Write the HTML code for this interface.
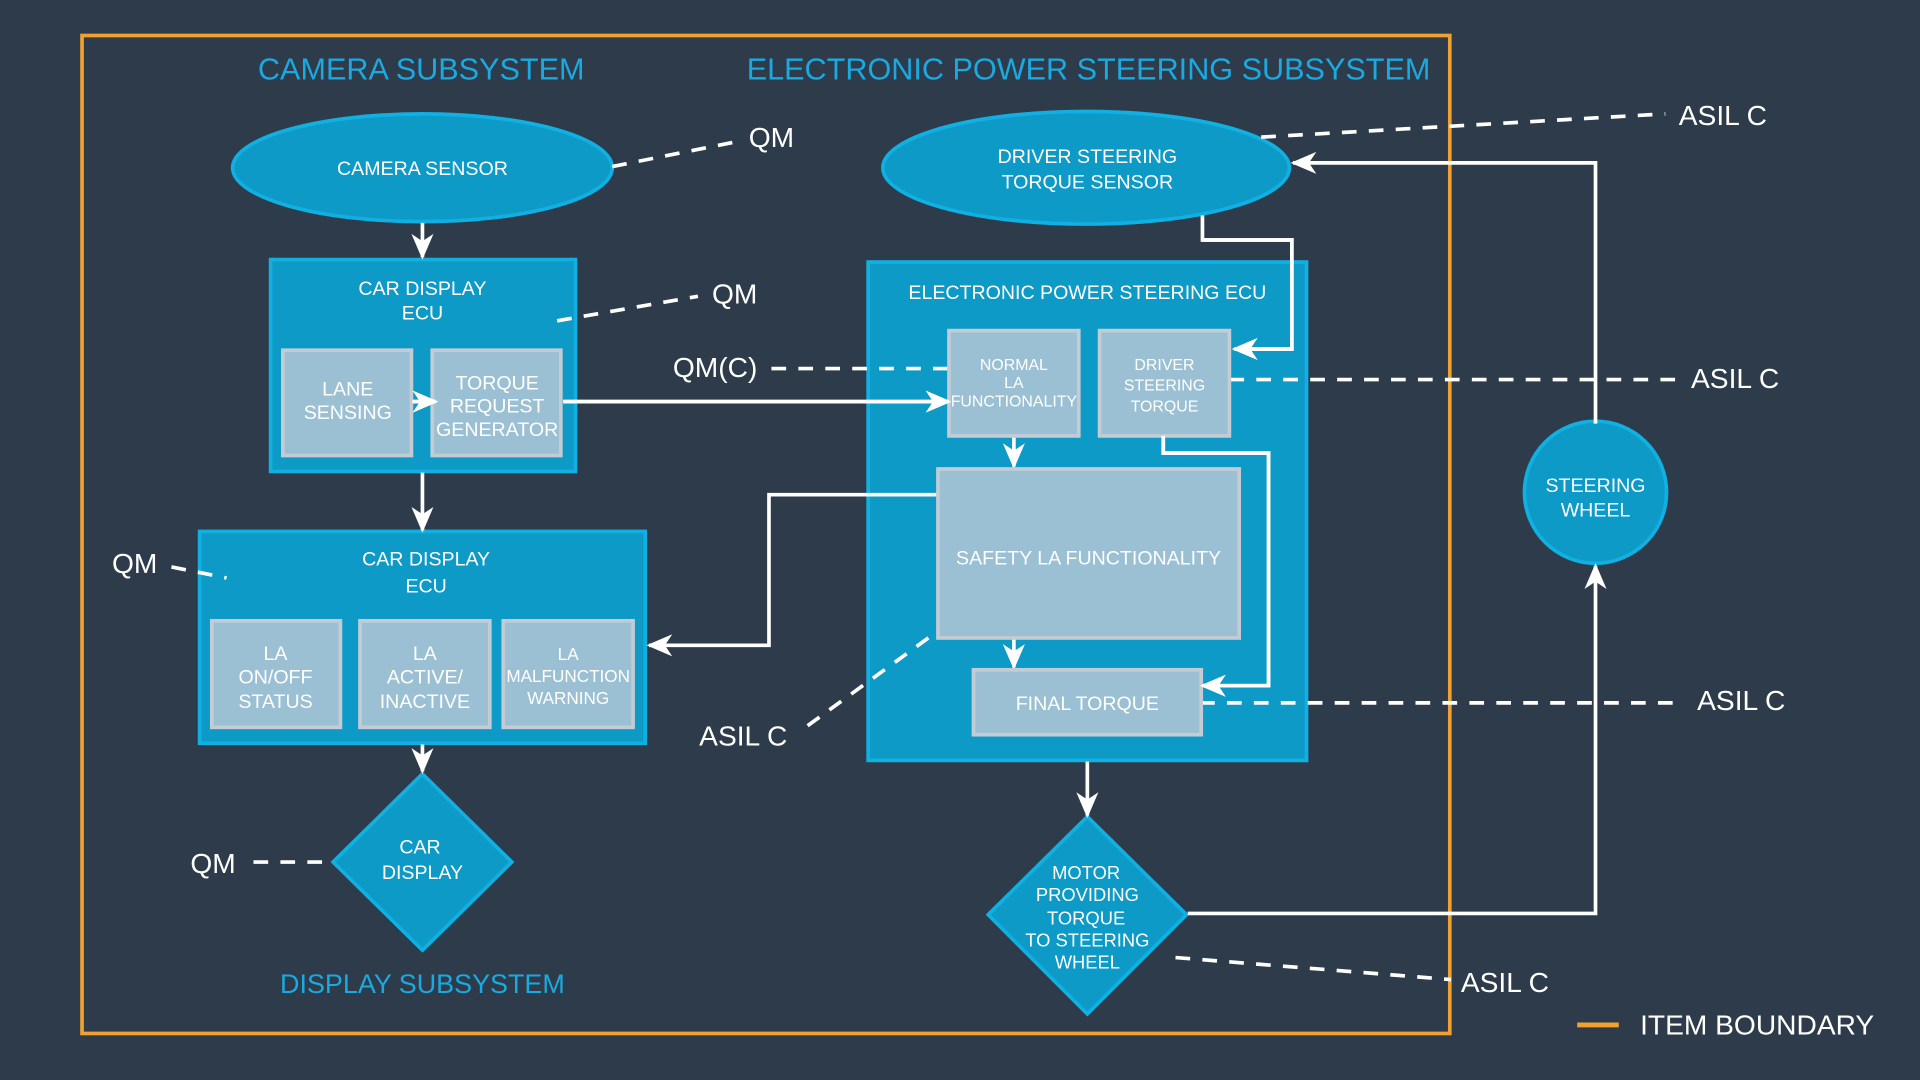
<!DOCTYPE html>
<html><head><meta charset="utf-8"><style>
html,body{margin:0;padding:0;background:#2e3b4a;}
svg{display:block}
text{font-family:"Liberation Sans",sans-serif;fill:#fff;text-anchor:middle}
.t{font-size:16px}
.s{font-size:13px}
.h{font-size:25px;fill:#1aa9e0}
.l{font-size:23px}
.box{fill:#0d9ac6;stroke:#10b0e3;stroke-width:3}
.g{fill:#9bc0d3;stroke:#c3ccd4;stroke-width:3}
.a{fill:none;stroke:#fff;stroke-width:3;marker-end:url(#ar)}
.d{fill:none;stroke:#fff;stroke-width:3;stroke-dasharray:12 10}
</style></head><body>
<svg width="1920" height="1080" viewBox="0 0 1568 882" preserveAspectRatio="none" xmlns="http://www.w3.org/2000/svg">
<defs><marker id="ar" viewBox="0 0 20 20" refX="18" refY="10" markerWidth="20" markerHeight="20" markerUnits="userSpaceOnUse" orient="auto" style="overflow:visible"><path d="M-1,1 L20,10 L-1,19 L5,10 Z" fill="#fff"/></marker></defs>
<rect width="1568" height="882" fill="#2e3b4a"/>
<rect x="67" y="29" width="1117" height="815" fill="none" stroke="#f0a132" stroke-width="3"/>
<text class="h" x="344" y="65">CAMERA SUBSYSTEM</text>
<text class="h" x="889" y="65">ELECTRONIC POWER STEERING SUBSYSTEM</text>
<text class="h" x="345" y="811" style="font-size:22px">DISPLAY SUBSYSTEM</text>

<!-- boxes -->
<ellipse class="box" cx="345" cy="137" rx="155" ry="44"/>
<text class="t" x="345" y="143">CAMERA SENSOR</text>
<ellipse class="box" cx="887" cy="137" rx="166" ry="46"/>
<text class="t" x="888" y="133">DRIVER STEERING</text><text class="t" x="888" y="154">TORQUE SENSOR</text>

<rect class="box" x="221" y="212" width="249" height="173"/>
<text class="t" x="345" y="241">CAR DISPLAY</text><text class="t" x="345" y="261">ECU</text>
<rect class="g" x="231" y="286" width="105" height="86"/>
<text class="t" x="284" y="323">LANE</text><text class="t" x="284" y="342">SENSING</text>
<rect class="g" x="353" y="286" width="105" height="86"/>
<text class="t" x="406" y="318">TORQUE</text><text class="t" x="406" y="337">REQUEST</text><text class="t" x="406" y="356">GENERATOR</text>

<rect class="box" x="163" y="434" width="364" height="173"/>
<text class="t" x="348" y="462">CAR DISPLAY</text><text class="t" x="348" y="484">ECU</text>
<rect class="g" x="173" y="507" width="105" height="87"/>
<text class="t" x="225" y="539">LA</text><text class="t" x="225" y="558">ON/OFF</text><text class="t" x="225" y="578">STATUS</text>
<rect class="g" x="294" y="507" width="106" height="87"/>
<text class="t" x="347" y="539">LA</text><text class="t" x="347" y="558">ACTIVE/</text><text class="t" x="347" y="578">INACTIVE</text>
<rect class="g" x="411" y="507" width="106" height="87"/>
<text x="464" y="539" style="font-size:14px">LA</text><text x="464" y="557" style="font-size:14px">MALFUNCTION</text><text x="464" y="575" style="font-size:14px">WARNING</text>

<polygon class="box" points="345,632 418,704 345,776 272,704"/>
<text class="t" x="343" y="697">CAR</text><text class="t" x="345" y="718">DISPLAY</text>

<rect class="box" x="709" y="214" width="358" height="407"/>
<text class="t" x="888" y="244">ELECTRONIC POWER STEERING ECU</text>

<polygon class="box" points="888,667 969,747 888,828 807,747"/>
<text class="t" x="887" y="718" style="font-size:15px">MOTOR</text><text class="t" x="888" y="736" style="font-size:15px">PROVIDING</text><text class="t" x="887" y="755" style="font-size:15px">TORQUE</text><text class="t" x="888" y="773" style="font-size:15px">TO STEERING</text><text class="t" x="888" y="791" style="font-size:15px">WHEEL</text>

<circle class="box" cx="1303" cy="402" r="58"/>
<text class="t" x="1303" y="402">STEERING</text><text class="t" x="1303" y="422">WHEEL</text>

<!-- dashed -->
<path class="d" d="M500,136 L600,116"/><text class="l" x="630" y="120">QM</text>
<path class="d" d="M455,262 L570,242"/><text class="l" x="600" y="248">QM</text>
<path class="d" d="M630,301 L776,301"/><text class="l" x="584" y="308">QM(C)</text>
<path class="d" d="M140,463 L185,472"/><text class="l" x="110" y="468">QM</text>
<path class="d" d="M207,704 L272,704"/><text class="l" x="174" y="713">QM</text>
<path class="d" d="M1030,112 L1360,93"/><text class="l" x="1407" y="102">ASIL C</text>
<path class="d" d="M1004,310 L1370,310"/><text class="l" x="1417" y="317">ASIL C</text>
<path class="d" d="M980,574 L1370,574"/><text class="l" x="1422" y="580">ASIL C</text>
<path class="d" d="M776,508 L655,596"/><text class="l" x="607" y="609">ASIL C</text>
<path class="d" d="M960,782 L1185,800"/><text class="l" x="1229" y="810">ASIL C</text>
<line x1="1288" y1="837" x2="1322" y2="837" stroke="#f0a132" stroke-width="4"/>
<text class="l" x="1435" y="845">ITEM BOUNDARY</text>

<!-- arrows -->
<path class="a" d="M345,182 L345,210"/>
<path class="a" d="M345,386 L345,433"/>
<path class="a" d="M345,608 L345,630"/>
<path class="a" d="M460,328 L775,328"/>
<path class="a" d="M337,328 L356,328"/>
<path class="a" d="M982,176 L982,196 L1055,196 L1055,285 L1008,285"/>
<path class="a" d="M828,356 L828,381"/>
<path class="a" d="M766,404 L628,404 L628,527 L530,527"/>
<path class="a" d="M828,522 L828,545"/>
<path class="a" d="M950,356 L950,370 L1036,370 L1036,560 L982,560"/>
<path class="a" d="M888,622 L888,666"/>
<path class="a" d="M970,746 L1303,746 L1303,462"/>
<path class="a" d="M1303,346 L1303,133 L1056,133"/>

<!-- inner gray boxes over connectors -->
<rect class="g" x="775" y="270" width="106" height="86"/>
<text class="s" x="828" y="302">NORMAL</text><text class="s" x="828" y="317">LA</text><text class="s" x="828" y="332">FUNCTIONALITY</text>
<rect class="g" x="898" y="270" width="106" height="86"/>
<text class="s" x="951" y="302">DRIVER</text><text class="s" x="951" y="319">STEERING</text><text class="s" x="951" y="336">TORQUE</text>
<rect class="g" x="766" y="383" width="246" height="138"/>
<text class="t" x="889" y="461">SAFETY LA  FUNCTIONALITY</text>
<rect class="g" x="795" y="547" width="186" height="53"/>
<text class="t" x="888" y="580">FINAL TORQUE</text>
<path class="a" d="M460,328 L775,328"/>
<path class="a" d="M337,328 L356,328"/>
<path class="a" d="M982,196 L1055,196 L1055,285 L1008,285"/>
<path class="a" d="M950,356 L950,370 L1036,370 L1036,560 L982,560"/>
</svg>
</body></html>
